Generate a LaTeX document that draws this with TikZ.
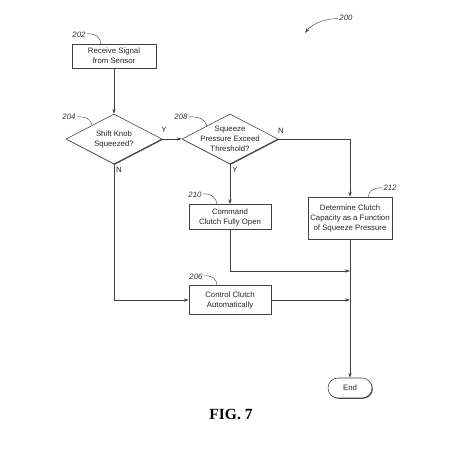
\documentclass[tikz,border=0pt]{standalone}
\usepackage{fontspec}
\setmainfont{Liberation Sans}
\newfontfamily\figfont{Liberation Serif}
\usetikzlibrary{shapes.geometric,shadows,arrows.meta}
\tikzset{
  ln/.style={draw=black!75, line width=0.55pt},
  arr/.style={ln, -{Stealth[length=5pt,width=3.2pt]}},
  shd/.style={drop shadow={shadow xshift=0.8pt, shadow yshift=-0.8pt, opacity=1, fill=black!75}},
  txt/.style={font=\fontsize{7.8}{10}\selectfont, align=center, text=black!85},
  procbox/.style={txt, shd, draw=black!75, line width=0.55pt, fill=white, inner sep=1pt},
  decbox/.style={txt, shd, diamond, draw=black!75, line width=0.55pt, fill=white, inner sep=-10pt, minimum width=96pt, minimum height=50pt},
  endbox/.style={txt, shd, draw=black!75, line width=0.55pt, fill=white, rounded corners=10pt, minimum width=44pt, minimum height=20pt, inner sep=1pt},
  refnum/.style={font=\fontsize{7.8}{9}\selectfont\itshape, text=black!80, inner sep=0pt},
  yn/.style={font=\fontsize{7.8}{9}\selectfont, text=black!85, inner sep=0pt},
  lead/.style={draw=black!70, line width=0.45pt}
}
\begin{document}
\begin{tikzpicture}[x=1pt,y=-1pt]
\useasboundingbox (0,0) rectangle (465,456);
\fill[white] (0,0) rectangle (465,456);

% nodes
\node[procbox, minimum width=84pt, minimum height=24pt] (b202) at (114,56) {Receive Signal\\from Sensor};
\node[decbox] (d204) at (114,139) {Shift Knob\\Squeezed?};
\node[decbox] (d208) at (230,139) {Squeeze\\Pressure Exceed\\Threshold?};
\node[procbox, minimum width=82pt, minimum height=25pt] (b210) at (230,217) {Command\\Clutch Fully Open};
\node[procbox, minimum width=84pt, minimum height=42pt] (b212) at (350,218) {Determine Clutch\\Capacity as a Function\\of Squeeze Pressure};
\node[procbox, minimum width=82pt, minimum height=29pt] (b206) at (230,300) {Control Clutch\\Automatically};
\node[endbox] (end) at (350,388) {End};

\coordinate (j1) at (350,271);
\coordinate (j2) at (350,300);

% connectors
\draw[arr] (b202.south) -- (d204.north);
\draw[arr] (d204.east) -- (d208.west);
\draw[arr] (d204.south) |- (b206.west);
\draw[arr] (d208.east) -| (b212.north);
\draw[arr] (d208.south) -- (b210.north);
\draw[arr] (b210.south) |- (j1);
\draw[arr] (b206.east) -- (j2);
\draw[arr] (b212.south) -- (end.north);

% Y/N labels
\node[yn] (y204) at (164,130) {Y};
\node[yn] (n204) at (119,170) {N};
\node[yn] (n208) at (281,131) {N};
\node[yn] (y208) at (235,170) {Y};

% reference numerals
\node[refnum] (r202) at (79,35) {202};
\draw[lead] (86.5,34) .. controls (96,33) and (100,37) .. (101,44);
\node[refnum] (r204) at (69,117) {204};
\draw[lead] (76.5,117) .. controls (87,116) and (91,120) .. (92,125);
\node[refnum] (r208) at (181,117) {208};
\draw[lead] (188.5,117) .. controls (200,116) and (205,120) .. (207,126);
\node[refnum] (r210) at (195,195) {210};
\draw[lead] (202.5,194) .. controls (212,193) and (216,198) .. (217,204);
\node[refnum] (r212) at (390,188) {212};
\draw[lead] (382.5,188) .. controls (374,187) and (369,191) .. (368,197);
\node[refnum] (r206) at (196,277) {206};
\draw[lead] (203.5,276) .. controls (213,275) and (217,280) .. (217,285.5);
\node[refnum] (r200) at (346,18) {200};
\draw[lead, -{Stealth[length=5pt,width=3.2pt]}] (338,18.5) .. controls (322,19) and (311,25) .. (305,33);

% caption
\node[font=\figfont\bfseries\fontsize{15.5}{18}\selectfont, inner sep=0pt] (cap) at (231,414) {FIG. 7};
\end{tikzpicture}
\end{document}
